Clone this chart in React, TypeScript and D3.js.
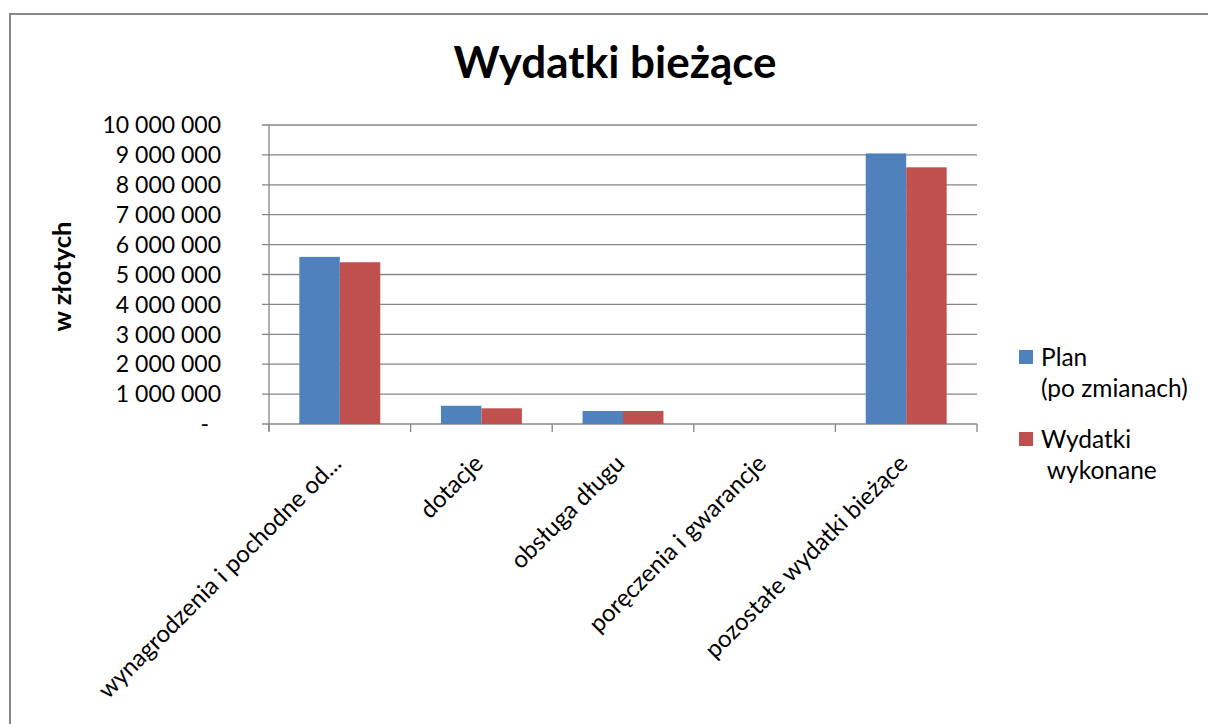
import React from 'react';
import * as d3 from 'd3';

const categories = [
  'wynagrodzenia i pochodne od...',
  'dotacje',
  'obsługa długu',
  'poręczenia i gwarancje',
  'pozostałe wydatki bieżące',
];
const planValues = [5590000, 610000, 435000, 0, 9050000];
const wykonaneValues = [5410000, 525000, 435000, 0, 8585000];
const seriesColors = ['#4F81BD', '#C0504D'];
const legendLines = [['Plan', '(po zmianach)'], ['Wydatki', ' wykonane']];
const yTicks = [0, 1000000, 2000000, 3000000, 4000000, 5000000, 6000000, 7000000, 8000000, 9000000, 10000000];

const FONT = 'Lato, "Open Sans", sans-serif';

export default function App() {
  const W = 1208, H = 724;
  const left = 269, right = 977, top = 125, bottom = 424;

  const x = d3.scaleBand<string>().domain(categories).range([left, right]).padding(0);
  const y = d3.scaleLinear().domain([0, 10000000]).range([bottom, top]);
  const step = x.bandwidth();
  const barW = step / 3.5;
  const gap = (step - 2 * barW) / 2;

  const fmt = (v: number) => (v === 0 ? '-' : d3.format(',')(v).replace(/,/g, ' '));
  const series = [planValues, wykonaneValues];

  return (
    <svg width={W} height={H} style={{ position: 'absolute', left: 0, top: 0, background: '#fff' }} fontFamily={FONT}>
      <rect x={10} y={14} width={1400} height={900} fill="#fff" stroke="#878787" strokeWidth={2} />

      <text x={615} y={78} textAnchor="middle" fontSize={44} fontWeight="bold" fill="#000">
        Wydatki bieżące
      </text>

      {/* gridlines */}
      {yTicks.map(t => (
        <line key={t} x1={left - 7} x2={right} y1={y(t)} y2={y(t)} stroke="#868686" strokeWidth={1.3} />
      ))}
      <line x1={left} x2={left} y1={top} y2={bottom + 7} stroke="#868686" strokeWidth={1.3} />
      {d3.range(categories.length + 1).map(i => (
        <line key={i} x1={left + i * step} x2={left + i * step} y1={bottom} y2={bottom + 8} stroke="#868686" strokeWidth={1.3} />
      ))}

      {/* y tick labels */}
      {yTicks.map(t => (
        <text key={t} x={t === 0 ? 209 : 221} y={y(t)} dy="0.36em" textAnchor="end" fontSize={23} fill="#000">
          {fmt(t)}
        </text>
      ))}

      <text transform={`translate(71,${(top + bottom) / 2 + 2}) rotate(-90)`} textAnchor="middle" fontSize={25.5} fontWeight="bold">
        w złotych
      </text>

      {/* bars */}
      {categories.map((c, ci) =>
        series.map((vals, si) => (
          <rect
            key={c + si}
            x={(x(c) as number) + gap + si * barW}
            y={y(vals[ci])}
            width={barW}
            height={bottom - y(vals[ci])}
            fill={seriesColors[si]}
          />
        ))
      )}

      {/* x labels */}
      {categories.map(c => {
        const cx = (x(c) as number) + step / 2;
        return (
          <text key={c} transform={`translate(${cx + 3},${bottom + 41}) rotate(-45)`} textAnchor="end" fontSize={24}>
            {c}
          </text>
        );
      })}

      {/* legend */}
      {legendLines.map((lines, i) => (
        <g key={i} transform={`translate(1019,${350 + i * 82})`}>
          <rect x={0} y={0} width={14} height={14} fill={seriesColors[i]} />
          {lines.map((l, j) => (
            <text key={j} x={22} y={16 + j * 31} fontSize={24.5} style={{ whiteSpace: 'pre' }}>{l}</text>
          ))}
        </g>
      ))}
    </svg>
  );
}
